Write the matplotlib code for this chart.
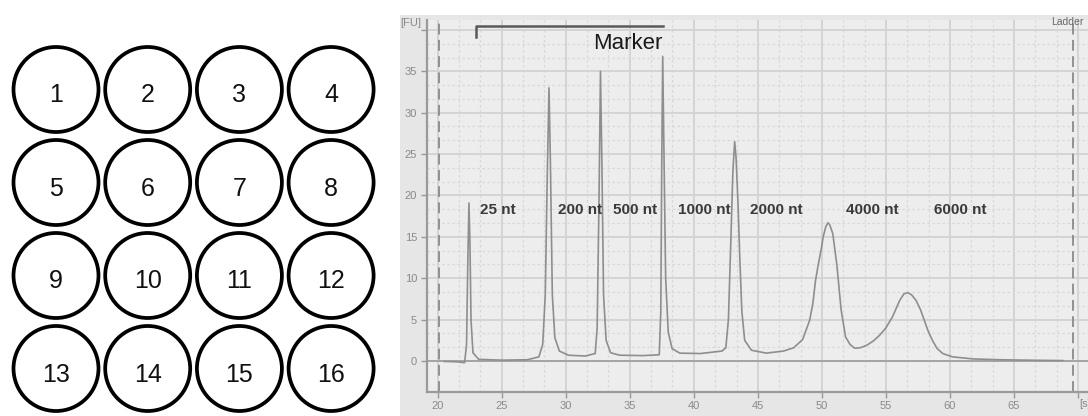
import matplotlib.pyplot as plt
import matplotlib.patches as mpatches
import numpy as np

# well layout, numbered row by row
wells = list(range(1, 17))
n_cols = 4

# electropherogram trace: migration time [s] vs fluorescence [FU]
trace_time = [20.5, 21.5, 22.1, 22.25, 22.35, 22.44, 22.52, 22.6, 22.75, 23.2,
              25.0, 27.0, 27.9, 28.2, 28.4, 28.55, 28.69, 28.8, 28.95, 29.15,
              29.5, 30.2, 31.5, 32.3, 32.45, 32.6, 32.71, 32.82, 32.95, 33.15,
              33.5, 34.2, 36.0, 37.3, 37.42, 37.5, 37.57, 37.66, 37.8, 38.0,
              38.3, 38.9, 40.5, 42.2, 42.5, 42.7, 42.9, 43.05, 43.19, 43.3,
              43.45, 43.6, 43.75, 43.97, 44.5, 45.66, 47.0, 47.8, 48.5, 49.04,
              49.3, 49.5, 49.7, 49.96, 50.1, 50.3, 50.47, 50.6, 50.85, 51.17,
              51.5, 51.85, 52.2, 52.55, 53.0, 53.5, 54.0, 54.5, 55.0, 55.5,
              56.07, 56.4, 56.7, 57.0, 57.36, 57.7, 58.0, 58.3, 58.66, 59.0,
              59.44, 60.2, 61.8, 64.0, 66.0, 68.8]
trace_fu = [-0.05, -0.1, -0.2, 2.0, 12.0, 19.1, 14.0, 5.0, 1.0, 0.2,
            0.1, 0.15, 0.5, 2.0, 8.0, 22.0, 33.0, 24.0, 8.0, 2.8,
            1.2, 0.7, 0.6, 0.9, 4.0, 20.0, 35.0, 24.0, 8.0, 2.5,
            1.0, 0.7, 0.65, 0.75, 6.0, 25.0, 36.8, 26.0, 10.0, 3.5,
            1.5, 0.95, 0.9, 1.2, 1.6, 5.0, 15.0, 23.0, 26.5, 24.5,
            19.0, 12.0, 6.0, 2.5, 1.3, 0.95, 1.2, 1.6, 2.6, 4.9,
            7.0, 9.7, 11.5, 13.6, 15.0, 16.2, 16.7, 16.5, 15.4, 11.6,
            6.2, 2.9, 2.0, 1.55, 1.6, 1.9, 2.4, 3.1, 4.0, 5.3,
            7.3, 8.1, 8.26, 8.0, 7.3, 6.2, 4.9, 3.6, 2.4, 1.5,
            0.9, 0.5, 0.25, 0.15, 0.1, 0.05]

ladder_labels = ["25 nt", "200 nt", "500 nt", "1000 nt", "2000 nt", "4000 nt", "6000 nt"]
ladder_label_x = [23.3, 29.4, 33.7, 38.75, 44.4, 51.9, 58.75]
label_y = 18.3

marker_span = (23.0, 37.6)
alignment_bounds = (20.1, 69.6)

W, H = 1088, 416
fig = plt.figure(figsize=(W / 100, H / 100), dpi=100)
fig.patch.set_facecolor("white")

# ---- left: 4x4 well map ----
ax0 = fig.add_axes([0, 0, 400 / W, 1])
ax0.set_xlim(0, 400)
ax0.set_ylim(416, 0)
ax0.axis("off")
for k, w in enumerate(wells):
    r, c = divmod(k, n_cols)
    cx = 56 + 91.7 * c
    cy = 89.5 + 93 * r
    ax0.add_patch(mpatches.Circle((cx, cy), 42.5, facecolor="white",
                                  edgecolor="black", lw=2.7))
    ax0.text(cx, cy + 6, str(w), ha="center", va="center",
             fontsize=18, family="Liberation Sans", color="#111111")

# ---- right: electropherogram ----
panel = mpatches.Rectangle((400 / W, 0), 1 - 400 / W, (H - 15) / H,
                           transform=fig.transFigure, facecolor="#e6e6e6",
                           edgecolor="none", zorder=-10)
fig.patches.append(panel)

left_px, bot_px, top_px = 426.7, 391.7, 20
ax = fig.add_axes([left_px / W, (H - bot_px) / H, 1 - left_px / W, (bot_px - top_px) / H])
ax.set_facecolor("#ededed")
ax.set_xlim(19.14, 70.78)
ax.set_ylim(-3.71, 41.2)

ax.set_xticks(np.arange(20, 71, 5))
ax.set_xticklabels([str(v) for v in range(20, 70, 5)] + [""])
ax.set_yticks(np.arange(0, 41, 5))
ax.set_yticklabels([str(v) for v in range(0, 40, 5)] + [""])
ax.set_xticks(np.arange(20, 71, 5 / 3), minor=True)
ax.set_yticks(np.arange(0, 41, 5 / 3), minor=True)
ax.grid(which="major", color="#d2d2d2", lw=1.3)
ax.grid(which="minor", color="#d8d8d8", lw=0.9, ls=(0, (2, 2)))
ax.set_axisbelow(True)
ax.tick_params(which="major", length=4, width=1, color="#999999",
               labelsize=8, labelcolor="#8a8a8a", pad=3)
ax.tick_params(which="minor", length=0)
for lab in ax.get_xticklabels() + ax.get_yticklabels():
    lab.set_family("Liberation Sans")
for s in ("top", "right"):
    ax.spines[s].set_visible(False)
for s in ("left", "bottom"):
    ax.spines[s].set_color("#9a9a9a")
    ax.spines[s].set_linewidth(1.6)

ax.axhline(0, color="#a0a0a0", lw=1.3, zorder=1)
for xb in alignment_bounds:
    ax.axvline(xb, color="#8a8a8a", lw=1.3, ls=(0, (6, 3)), zorder=2)

ax.plot(trace_time, trace_fu, color="#8e8e8e", lw=1.2, zorder=3)

for lab, lx in zip(ladder_labels, ladder_label_x):
    ax.text(lx, label_y, lab, ha="left", va="center", fontsize=11,
            family="Liberation Sans", weight="bold", color="#3a3a3a", zorder=4)

# marker bracket
ax.plot([marker_span[0], marker_span[0], marker_span[1]], [39.2, 40.5, 40.5],
        color="#5a5a5a", lw=1.8, zorder=4, clip_on=False)
ax.text(34.82, 38.4, "Marker", ha="center", va="center", fontsize=16,
        family="Liberation Sans", color="#1a1a1a", zorder=4)

ax.text(70.1, -5.2, "[s]", ha="left", va="center", fontsize=8,
        family="Liberation Sans", color="#8a8a8a", clip_on=False)
t = fig.text(421 / W, (H - 23) / H, "[FU]", fontsize=8, family="Liberation Sans",
             color="#8a8a8a", ha="right", va="center")
t.set_clip_path(panel)
fig.text(1084 / W, (H - 22) / H, "Ladder", ha="right", va="center", fontsize=7.5,
         family="Liberation Sans", color="#666666")

fig.savefig("out.png", dpi=100)
